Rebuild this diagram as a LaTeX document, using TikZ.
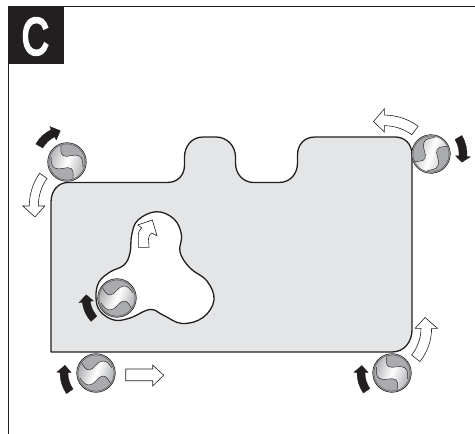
\documentclass[tikz,border=0pt]{standalone}
\usepackage{fontspec}
\setmainfont{Liberation Sans}
\newfontfamily\labelfont[FakeBold=5]{Liberation Sans}
\definecolor{ink}{HTML}{231F20}
\definecolor{plate}{HTML}{E4E5E7}
\definecolor{flute}{HTML}{A9ABAE}
\tikzset{
  frameline/.style={draw=ink,line width=1pt},
  plateline/.style={draw=ink,line width=1.3pt,line join=round},
  blackarrow/.style={fill=ink,draw=ink,line width=.3pt,line join=round},
  whitearrow/.style={fill=white,draw=ink,line width=.6pt,line join=miter},
}
% tool: x y rotation
\newcommand{\cutter}[3]{%
  \begin{scope}[shift={(#1,#2)},rotate=#3]
    \fill[flute] (0,0) circle[radius=19.3];
    \begin{scope}
      \clip (0,0) circle[radius=18];
      \path[left color=flute,right color=flute,middle color=white,shading angle=70]
        (-20,-16) -- (-16,-13) .. controls (-13,-8) and (-11,-3) .. (-7,-3)
        .. controls (-2,-3) and (1,-12) .. (7,-12)
        .. controls (11,-12) and (13,-9) .. (16,-5) -- (20,-3)
        -- (20,16) -- (16,13) .. controls (13,8) and (11,3) .. (7,3)
        .. controls (2,3) and (-1,12) .. (-7,12)
        .. controls (-11,12) and (-13,9) .. (-16,5) -- (-20,3) -- cycle;
      \draw[ink,line width=.45pt] (-16,-13) .. controls (-13,-8) and (-11,-3) .. (-7,-3)
        .. controls (-2,-3) and (1,-12) .. (7,-12)
        .. controls (11,-12) and (13,-9) .. (16,-5);
      \draw[ink,line width=.45pt] (16,13) .. controls (13,8) and (11,3) .. (7,3)
        .. controls (2,3) and (-1,12) .. (-7,12)
        .. controls (-11,12) and (-13,9) .. (-16,5);
    \end{scope}
    \draw[ink!80,line width=.35pt] (0,0) circle[radius=18];
    \draw[ink,line width=.6pt] (0,0) circle[radius=19.3];
  \end{scope}}
% style cx cy r a0 a2 a1 w hw
\newcommand{\bentarrow}[9]{%
  \begin{scope}[shift={(#2,#3)}]
    \pgfmathsetmacro{\ri}{#4-#8/2}\pgfmathsetmacro{\ro}{#4+#8/2}
    \pgfmathsetmacro{\hi}{#4-#9/2}\pgfmathsetmacro{\ho}{#4+#9/2}
    \path[#1] (#5:\ri) arc[start angle=#5,end angle=#6,radius=\ri]
      -- (#6:\hi) -- (#7:#4) -- (#6:\ho) -- (#6:\ro)
      arc[start angle=#6,end angle=#5,radius=\ro] -- cycle;
  \end{scope}}
\begin{document}
\begin{tikzpicture}[x=1pt,y=1pt,yscale=-1]
\useasboundingbox (0,0) rectangle (475,434);
% frame
\draw[frameline] (8.3,434) -- (8.3,6.8) -- (475,6.8);
\fill[ink] (7.8,6.3) rectangle (64,64);
\node[text=white,font=\labelfont\fontsize{52}{52}\selectfont,xscale=.72,inner sep=0pt] (label) at (35.3,36.5) {C};
% plate
\path[fill=plate,plateline] (51,352) -- (51,202)
  .. controls (51,191) and (58,182.5) .. (68,182.5)
  -- (167,182.5) .. controls (178,182.5) and (184.5,175) .. (184.5,165)
  -- (184.5,157) .. controls (184.5,146) and (192,137) .. (203,137)
  -- (216,137) .. controls (227,137) and (235.5,146) .. (235.5,157)
  -- (235.5,163) .. controls (235.5,174) and (243,182.5) .. (254,182.5)
  -- (279,182.5) .. controls (290,182.5) and (297.5,174) .. (297.5,163)
  -- (297.5,155) .. controls (297.5,145) and (304,137) .. (315,137)
  -- (395,137) .. controls (405,137) and (412,144) .. (412,155)
  -- (412,330) .. controls (412,342) and (404,352) .. (392,352) -- cycle;
% hole
\path[fill=white,plateline] plot[smooth cycle,tension=.65] coordinates {
  (156.5,211.7) (138,220) (131.7,235) (130,253) (124,265) (110,272) (99,282) (96,297)
  (100,311) (114,320) (130,318) (150,309.5) (163,315) (182,323.5) (203,317.5) (214,300)
  (207,281) (190,268) (180,252) (181.5,235) (174,219)};
% cutters
\cutter{67}{162}{35}
\cutter{431}{154}{-60}
\cutter{96}{373}{0}
\cutter{392}{373}{38}
\cutter{117}{298}{0}
% black arrows
\bentarrow{blackarrow}{67}{162}{32}{210}{244}{258}{8}{15}
\bentarrow{blackarrow}{431}{154}{32}{-31}{4}{15}{8}{15}
\bentarrow{blackarrow}{392}{373}{31}{145}{181}{194}{8}{14.5}
\bentarrow{blackarrow}{96}{373}{32}{145}{181}{194}{8}{14.5}
\bentarrow{blackarrow}{117}{298}{31}{138}{173}{186}{8}{14.5}
% white arrows
\bentarrow{whitearrow}{86.4}{206}{52.6}{215}{180}{168}{9}{22}
\bentarrow{whitearrow}{384.3}{172.1}{51.7}{306.4}{270}{258}{10.6}{23}
\bentarrow{whitearrow}{378.3}{328.3}{48}{38.7}{0}{-13}{10.6}{22.3}
\path[whitearrow] (125.7,369) -- (152.7,369) -- (152.7,365) -- (163.7,375.3) -- (152.7,386) -- (152.7,380.7) -- (125.7,380.7) -- cycle;
\path[whitearrow] (138.3,247.3) -- (149,247.3) -- (148.5,239) .. controls (148.5,236) and (150,234) .. (151.7,233)
  -- (157,235.7) -- (152.3,220) -- (137.7,225) -- (141.7,227.7) .. controls (139.5,229.5) and (138.3,232) .. (138.3,236) -- cycle;
\end{tikzpicture}
\end{document}
